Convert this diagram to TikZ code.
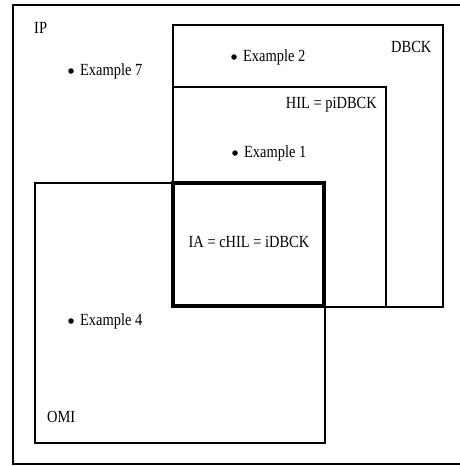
\documentclass[tikz,border=0pt]{standalone}
\usepackage{fontspec}
\setmainfont[FakeStretch=0.85]{Liberation Serif}
\usetikzlibrary{positioning}
\tikzstyle{ensemble}  =[line width=1.6pt]
\tikzstyle{inter}     =[line width=3.2pt]
\tikzstyle{etiquette} =[font=\fontsize{17}{19}\selectfont, inner sep=0pt]
\tikzstyle{point}     =[circle, fill, inner sep=0pt, minimum size=5.5pt]

\begin{document}
\begin{tikzpicture}[x=1pt,y=-1pt]
 \useasboundingbox (0,0) rectangle (460,466);
 % les ensembles
 \draw[ensemble] (13,5) rectangle (472,464);
 \draw[ensemble] (35,183) rectangle (325,443);
 \draw[ensemble] (173,25) rectangle (443,307);
 \draw[ensemble] (173,87) rectangle (386,307);
 \draw[inter] (173,183) rectangle (324,306);
 % noms
 \node[etiquette, anchor=base west] (ip) at (34,33) {IP};
 \node[etiquette, anchor=base west] (dbck) at (391,52) {DBCK};
 \node[etiquette, anchor=base east] (hil) at (377,108) {HIL = piDBCK};
 \node[etiquette, anchor=base] (ia) at (249,247) {IA = cHIL = iDBCK};
 \node[etiquette, anchor=base west] (omi) at (47,422) {OMI};
 % exemples
 \node[point] (p7) at (71,71) {};
 \node[etiquette, right=6pt of p7] (e7) {Example 7};
 \node[point] (p2) at (234,57) {};
 \node[etiquette, right=6pt of p2] (e2) {Example 2};
 \node[point] (p1) at (235,153) {};
 \node[etiquette, right=6pt of p1] (e1) {Example 1};
 \node[point] (p4) at (71,321) {};
 \node[etiquette, right=6pt of p4] (e4) {Example 4};
\end{tikzpicture}
\end{document}
